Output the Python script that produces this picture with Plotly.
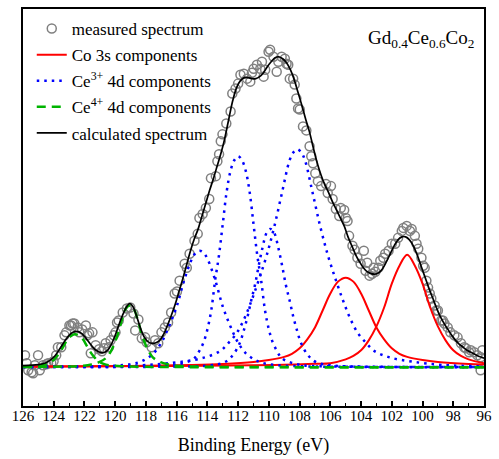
import plotly.graph_objects as go

# ---------------- data (binding energy in eV, intensity in a.u.) ----------------
meas_x = [125.87, 125.76, 125.66, 125.44, 125.34, 125.23, 125.02, 124.91, 124.70, 124.48,
          124.37, 124.16, 124.01, 123.84, 123.73, 123.51, 123.30, 123.19, 122.98, 122.87,
          122.77, 122.66, 122.45, 122.34, 122.15, 121.91, 121.81, 121.70, 121.59, 121.48,
          121.27, 121.05, 120.86, 120.73, 120.62, 120.41, 120.30, 120.09, 119.98, 119.88,
          119.77, 119.51, 119.24, 119.02, 118.81, 118.70, 118.49, 118.27, 118.05, 117.95,
          117.63, 117.41, 117.20, 116.99, 116.77, 116.56, 116.36, 116.13, 115.98, 115.81,
          115.48, 115.34, 115.16, 114.84, 114.63, 114.52, 114.31, 114.10, 113.88, 113.77,
          113.45, 113.35, 113.24, 113.13, 113.02, 112.77, 112.49, 112.38, 112.17, 112.00,
          111.85, 111.63, 111.42, 111.21, 111.10, 110.99, 110.78, 110.56, 110.45, 110.34,
          110.24, 110.02, 109.92, 109.70, 109.49, 109.38, 109.17, 108.96, 108.85, 108.74,
          108.64, 108.42, 108.32, 108.21, 108.10, 107.99, 107.78, 107.56, 107.35, 107.24,
          107.13, 106.98, 106.81, 106.60, 106.28, 106.17, 105.96, 105.85, 105.64, 105.42,
          105.32, 105.10, 104.99, 104.88, 104.78, 104.56, 104.42, 104.24, 104.03, 103.82,
          103.71, 103.60, 103.45, 103.28, 103.18, 103.07, 102.87, 102.75, 102.55, 102.43,
          102.21, 102.00, 101.78, 101.59, 101.35, 101.25, 101.03, 100.82, 100.71, 100.50,
          100.39, 100.28, 100.07, 99.96, 99.86, 99.75, 99.64, 99.53, 99.43, 99.21,
          99.10, 99.00, 98.78, 98.68, 98.57, 98.36, 98.19, 97.93, 97.72, 97.50,
          97.29, 97.18, 96.97, 96.86, 96.64, 96.43, 96.22, 96.22, 96.11]
meas_y = [12, 4, -3, -5, -6, 2, 12, -3, 2, 3,
          4, 4, 6, 12, 20, 20, 32, 35, 42, 42,
          44, 44, 40, 35, 38, 42, 32, 34, 14, 35,
          22, 18, 16, 19, 24, 20, 27, 32, 35, 45,
          47, 55, 59, 60, 54, 37, 48, 29, 30, 25,
          20, 27, 24, 35, 40, 45, 55, 74, 76, 87,
          104, 100, 114, 127, 134, 150, 154, 160, 169, 190,
          192, 207, 214, 227, 234, 245, 257, 275, 280, 285,
          294, 295, 290, 287, 296, 300, 304, 300, 307, 292,
          299, 317, 319, 312, 297, 307, 312, 310, 305, 304,
          290, 290, 284, 270, 260, 259, 242, 238, 222, 212,
          205, 195, 187, 182, 184, 175, 182, 169, 159, 152,
          160, 158, 150, 147, 132, 122, 118, 110, 104, 117,
          97, 105, 92, 94, 100, 96, 100, 107, 110, 114,
          117, 124, 124, 130, 137, 140, 142, 137, 139, 132,
          124, 119, 110, 102, 100, 87, 80, 74, 69, 62,
          57, 57, 47, 47, 44, 40, 35, 32, 30, 24,
          20, 19, 15, 17, 15, 12, 10, -3, 17]

# Co 3s components
co1_x = [126, 119, 115, 113, 111, 110, 109, 108.5, 108, 107.5, 107, 106.5, 106, 105.5, 105,
         104.5, 104, 103.5, 103, 102.5, 102, 101.5, 101, 100, 99, 97, 96]
co1_y = [0.5, 1.2, 2.2, 3.2, 5.2, 7.2, 10.4, 13.5, 19, 28, 40, 57, 74, 86, 90,
         86, 74, 57, 40, 28, 19, 13.5, 10.4, 7.2, 5.2, 3.2, 2.7]
co2_x = [126, 116, 111, 109, 107, 106, 105, 104.5, 104, 103.5, 103, 102.5, 102, 101.5, 101,
         100.5, 100, 99.5, 99, 98.5, 98, 97.5, 97, 96]
co2_y = [0.6, 1.1, 2, 2.5, 3.4, 4, 7.9, 11.3, 17, 27, 41, 60, 84, 102, 113,
         102, 84, 60, 41, 27, 17, 11.3, 7.9, 4]

# Ce3+ 4d components
ce3a_x = [126, 118, 116, 115, 114.75, 114.5, 114.25, 114, 113.75, 113.5, 113.25, 113, 112.75,
          112.5, 112.25, 112, 111.75, 111.5, 111.25, 111, 110.75, 110.5, 110.25, 110, 109.75,
          109.5, 109.25, 109, 108, 106, 96]
ce3a_y = [0.2, 0.8, 2.5, 7.4, 10.6, 17, 25, 38, 57, 87, 112, 144, 176,
          197, 208, 212, 208, 197, 176, 144, 112, 87, 57, 38, 25,
          17, 10.6, 7.4, 2.5, 0.8, 0.1]
ce3b_x = [126, 120, 118, 115.65, 114.15, 113.15, 112.65, 112.15, 111.65, 111.15, 110.65, 110.15,
          109.65, 109.15, 108.65, 108.4, 108.15, 107.9, 107.65, 107.15, 106.65, 106.15, 105.65,
          105.15, 104.65, 104.15, 103.65, 103.15, 102.15, 100.65, 98.65, 96]
ce3b_y = [0.4, 1, 2.2, 5.5, 9.9, 16.4, 24, 33, 47, 66, 88, 112,
          141, 175, 208, 216, 219, 216, 208, 175, 141, 112, 88,
          66, 47, 33, 24, 16.4, 9.9, 5.5, 2.2, 0.9]
ce3c_x = [126, 116, 113.9, 112.9, 112.4, 111.9, 111.65, 111.4, 111.15, 110.9, 110.65, 110.4,
          110.15, 109.9, 109.65, 109.4, 109.15, 108.9, 108.65, 108.4, 108.15, 107.9, 107.4,
          106.9, 105.9, 103.9, 96]
ce3c_y = [0.1, 0.6, 1.7, 4.9, 11, 24, 36, 50, 67, 83, 103, 121,
          135, 139, 135, 121, 103, 83, 67, 50, 36, 24, 11,
          4.9, 1.7, 0.6, 0.1]
ce3d_x = [126, 121.5, 119.5, 118.5, 118, 117.5, 117, 116.5, 116, 115.5, 115, 114.75, 114.5,
          114.25, 114, 113.5, 113, 112.5, 112, 111.5, 111, 110.5, 109.5, 107.5, 104.5, 96]
ce3d_y = [0.3, 0.8, 2.1, 4.7, 8.2, 14, 24.6, 41, 61, 88, 109, 115, 117,
          115, 109, 88, 61, 41, 24.6, 14, 8.2, 4.7, 2.1, 0.8, 0.35, 0.1]

# Ce4+ 4d components
ce4a_x = [126, 125, 124.6, 124.1, 123.85, 123.6, 123.35, 123.1, 122.85, 122.6, 122.35, 122.1,
          121.85, 121.6, 121.35, 121.1, 120.6, 119.6, 117.6, 96]
ce4a_y = [0.6, 1.5, 2.6, 5.9, 9.9, 14.9, 21.5, 28, 31.7, 33, 31.7, 28,
          21.5, 14.9, 9.9, 5.9, 2.6, 1.0, 0.3, 0]
ce4b_x = [126, 123.05, 122.05, 121.55, 121.05, 120.55, 120.3, 120.05, 119.8, 119.55, 119.3,
          119.05, 118.8, 118.55, 118.3, 118.05, 117.8, 117.55, 117.05, 116.55, 116.05, 115.05,
          113.05, 96]
ce4b_y = [0.2, 0.74, 1.55, 2.8, 5, 9.9, 15.5, 23.6, 34.7, 48.4, 59,
          62, 59, 48.4, 34.7, 23.6, 15.5, 9.9, 5, 2.8, 1.55, 0.74,
          0.3, 0]

# calculated spectrum
calc_x = [126.0, 125.0, 124.5, 124.0, 123.75, 123.5, 123.25, 123.0, 122.75, 122.55, 122.3, 122.0,
          121.75, 121.5, 121.25, 121.0, 120.8, 120.5, 120.25, 120.0, 119.75, 119.5, 119.25,
          119.05, 118.85, 118.6, 118.35, 118.1, 117.85, 117.6, 117.35, 117.1, 116.85, 116.6,
          116.35, 116.1, 115.85, 115.6, 115.35, 115.1, 114.85, 114.6, 114.35, 114.1, 113.85,
          113.6, 113.35, 113.1, 112.9, 112.6, 112.35, 112.1, 111.85, 111.6, 111.35, 111.1,
          110.85, 110.6, 110.35, 110.1, 109.85, 109.6, 109.35, 109.1, 108.85, 108.6, 108.35,
          108.1, 107.85, 107.6, 107.35, 107.1, 106.85, 106.6, 106.35, 106.1, 105.85, 105.6,
          105.35, 105.1, 104.85, 104.6, 104.35, 104.1, 103.85, 103.6, 103.35, 103.1, 102.85,
          102.6, 102.35, 102.1, 101.85, 101.6, 101.35, 101.1, 100.85, 100.6, 100.35, 100.1,
          99.85, 99.6, 99.35, 99.1, 98.85, 98.6, 98.35, 98.1, 97.85, 97.6, 97.35, 97.1,
          96.85, 96.6, 96.35, 96.0]
calc_y = [1.5, 2.5, 4.5, 10, 15, 21, 27, 32, 35, 36, 35, 31,
          26, 21, 17, 15, 14.5, 17, 23, 32, 43, 53, 61,
          64, 61, 51, 39, 30, 25.5, 24, 24.5, 27, 33, 42,
          52, 63, 76, 89, 103, 117, 129, 139, 152, 165, 178,
          190, 203, 216, 228, 250, 268, 281, 288, 291, 291, 290,
          290, 292, 296, 302, 307, 311, 312, 310, 306, 299, 289,
          276, 263, 249, 236, 220, 205, 193, 183, 175, 166, 158,
          150, 142, 131, 122, 113, 106, 100, 96, 94, 93.5, 95,
          99, 106, 114, 122, 128, 131, 131, 128, 122, 113, 102,
          91, 80, 70, 60, 51, 44, 38, 32, 27, 23, 20, 17,
          15, 13, 11, 9]

tick_vals = list(range(126, 95, -2))

FONT = "Liberation Serif"
RED = "#ff0000"
BLUE = "#0000ff"
GREEN = "#00b400"

fig = go.Figure()

fig.add_trace(go.Scatter(x=meas_x, y=meas_y, mode="markers", name="measured spectrum",
                         legendrank=1, legendgroup="g1",
                         marker=dict(symbol="circle-open", size=9, color="rgb(128,128,128)",
                                     line=dict(width=1.5, color="rgb(128,128,128)"))))

for i, (xs, ys) in enumerate([(co1_x, co1_y), (co2_x, co2_y)]):
    fig.add_trace(go.Scatter(x=xs, y=ys, mode="lines", name="Co 3s components",
                             showlegend=(i == 0), legendrank=2, legendgroup="g2",
                             line=dict(color=RED, width=2, shape="spline", smoothing=1)))

for i, (xs, ys) in enumerate([(ce3a_x, ce3a_y), (ce3b_x, ce3b_y), (ce3c_x, ce3c_y), (ce3d_x, ce3d_y)]):
    fig.add_trace(go.Scatter(x=xs, y=ys, mode="lines", name="Ce<sup>3+</sup> 4d components",
                             showlegend=(i == 0), legendrank=3, legendgroup="g3",
                             line=dict(color=BLUE, width=2.5, dash="2.5px,5px", shape="spline", smoothing=1)))

for i, (xs, ys) in enumerate([(ce4a_x, ce4a_y), (ce4b_x, ce4b_y)]):
    fig.add_trace(go.Scatter(x=xs, y=ys, mode="lines", name="Ce<sup>4+</sup> 4d components",
                             showlegend=(i == 0), legendrank=4, legendgroup="g4",
                             line=dict(color=GREEN, width=2.5, dash="9px,6px", shape="spline", smoothing=1)))

fig.add_trace(go.Scatter(x=calc_x, y=calc_y, mode="lines", name="calculated spectrum",
                         legendrank=5, legendgroup="g5",
                         line=dict(color="black", width=1.7, shape="spline", smoothing=1)))

fig.add_annotation(text="Gd<sub>0.4</sub>Ce<sub>0.6</sub>Co<sub>2</sub>",
                   xref="paper", yref="paper", x=0.982, y=0.925, xanchor="right", yanchor="middle",
                   showarrow=False, font=dict(family=FONT, size=19, color="black"))

fig.update_layout(
    width=499, height=459,
    margin=dict(l=23, r=9, t=7, b=53),
    paper_bgcolor="white", plot_bgcolor="white",
    font=dict(family=FONT, color="black"),
    showlegend=True,
    legend=dict(x=0.019, y=0.995, xanchor="left", yanchor="top",
                bgcolor="rgba(0,0,0,0)", borderwidth=0,
                font=dict(family=FONT, size=17, color="black"),
                tracegroupgap=1, groupclick="toggleitem"),
    xaxis=dict(range=[126, 96], tickmode="array", tickvals=tick_vals,
               ticktext=[str(v) for v in tick_vals],
               ticks="inside", ticklen=5, tickwidth=1.5, tickcolor="black",
               minor=dict(dtick=1, tick0=96, ticks="inside", ticklen=3, tickwidth=1, tickcolor="black"),
               showline=True, linewidth=2, linecolor="black", mirror=True,
               showgrid=False, zeroline=False, ticklabelstandoff=-5,
               tickfont=dict(family=FONT, size=15, color="black"),
               title=dict(text="Binding Energy (eV)", font=dict(family=FONT, size=18, color="black"),
                          standoff=15)),
    yaxis=dict(range=[-39, 360], showticklabels=False, ticks="",
               showline=True, linewidth=2, linecolor="black", mirror=True,
               showgrid=False, zeroline=False),
)

fig.write_html("out.html")
